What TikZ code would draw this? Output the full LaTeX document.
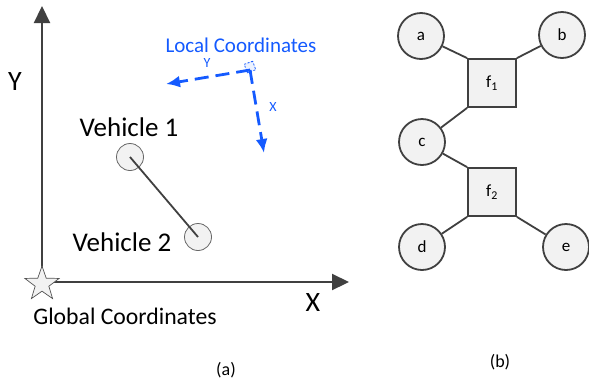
\documentclass[tikz,border=0pt]{standalone}
\usepackage{fontspec}
\setmainfont{Carlito}
\usetikzlibrary{arrows.meta,shapes.geometric}
\definecolor{dk}{RGB}{64,64,64}
\definecolor{lb}{RGB}{20,90,255}
\definecolor{fl}{RGB}{242,242,242}
\tikzset{
  axis/.style={draw=dk,line width=2.2pt,-{Triangle[length=17pt,width=16pt]}},
  veh/.style={circle,draw=dk!80,line width=0.8pt,fill=fl,minimum size=27pt,inner sep=0pt},
  vnode/.style={circle,draw=dk,line width=1.8pt,fill=fl,minimum size=46pt,inner sep=0pt,font=\fontsize{17}{17}\selectfont},
  fnode/.style={rectangle,draw=dk,line width=1.8pt,fill=fl,minimum size=48pt,inner sep=0pt,font=\fontsize{17}{17}\selectfont},
  edge/.style={draw=dk,line width=1.8pt},
  loc/.style={draw=lb,line width=2.8pt,dash pattern=on 14pt off 7pt,-{Latex[length=14pt,width=12pt]}},
  big/.style={font=\fontsize{27}{27}\selectfont},
}
\begin{document}
\begin{tikzpicture}[x=1pt,y=-1pt]
\useasboundingbox (0,0) rectangle (589,381);
% global axes
\coordinate (o) at (42,282);
\coordinate (ytip) at (42,6);
\coordinate (xtip) at (349,282);
\draw[axis] (o) -- (ytip);
\draw[axis] (o) -- (xtip);
\node[star,star points=5,star point ratio=2.5,draw=dk!90,line width=0.7pt,fill=fl,minimum size=36pt,inner sep=0pt] (star) at (42,284) {};
\node[font=\fontsize{28}{28}\selectfont] (ylab) at (15,82) {Y};
\node[font=\fontsize{28}{28}\selectfont] (xlab) at (313,303) {X};
\node[font=\fontsize{23.7}{24}\selectfont] (glob) at (125,316) {Global Coordinates};
% vehicles
\node[veh] (v1) at (130,157) {};
\node[veh] (v2) at (198,237) {};
\draw[edge] (v1.center) -- (v2.center);
\node[big] (v1t) at (129,127) {Vehicle 1};
\node[big] (v2t) at (122,242) {Vehicle 2};
% local coordinates
\node[text=lb,font=\fontsize{21}{21}\selectfont] (loct) at (241,45) {Local Coordinates};
\node[draw=lb,line width=0.8pt,dashed,dash pattern=on 2pt off 1.5pt,fill=lb!8,minimum size=9pt,inner sep=0pt,rotate=20] (lo) at (250,67) {};
\coordinate (lorig) at (250,70);
\coordinate (lyt) at (166,84);
\coordinate (lxt) at (264,153);
\draw[loc] (lorig) -- (lyt);
\draw[loc] (lorig) -- (lxt);
\node[text=lb,font=\fontsize{14}{14}\selectfont] (ly) at (207,63) {Y};
\node[text=lb,font=\fontsize{14}{14}\selectfont] (lx) at (273,107) {X};
\node[font=\fontsize{18}{18}\selectfont] (capa) at (226,370) {(a)};
% factor graph
\node[vnode] (a) at (421,36) {a};
\node[vnode] (b) at (562,35) {b};
\node[vnode] (c) at (422,142) {c};
\node[vnode] (d) at (422,247) {d};
\node[vnode] (e) at (566,247) {e};
\node[fnode] (f1) at (492,83) {f\textsubscript{1}};
\node[fnode] (f2) at (492,192) {f\textsubscript{2}};
\draw[edge] (a) -- (f1.north west);
\draw[edge] (b) -- (f1.north east);
\draw[edge] (c) -- (f1.south west);
\draw[edge] (c) -- (f2.north west);
\draw[edge] (d) -- (f2.south west);
\draw[edge] (e) -- (f2.south east);
\node[font=\fontsize{18}{18}\selectfont] (capb) at (500,362) {(b)};
\end{tikzpicture}
\end{document}
